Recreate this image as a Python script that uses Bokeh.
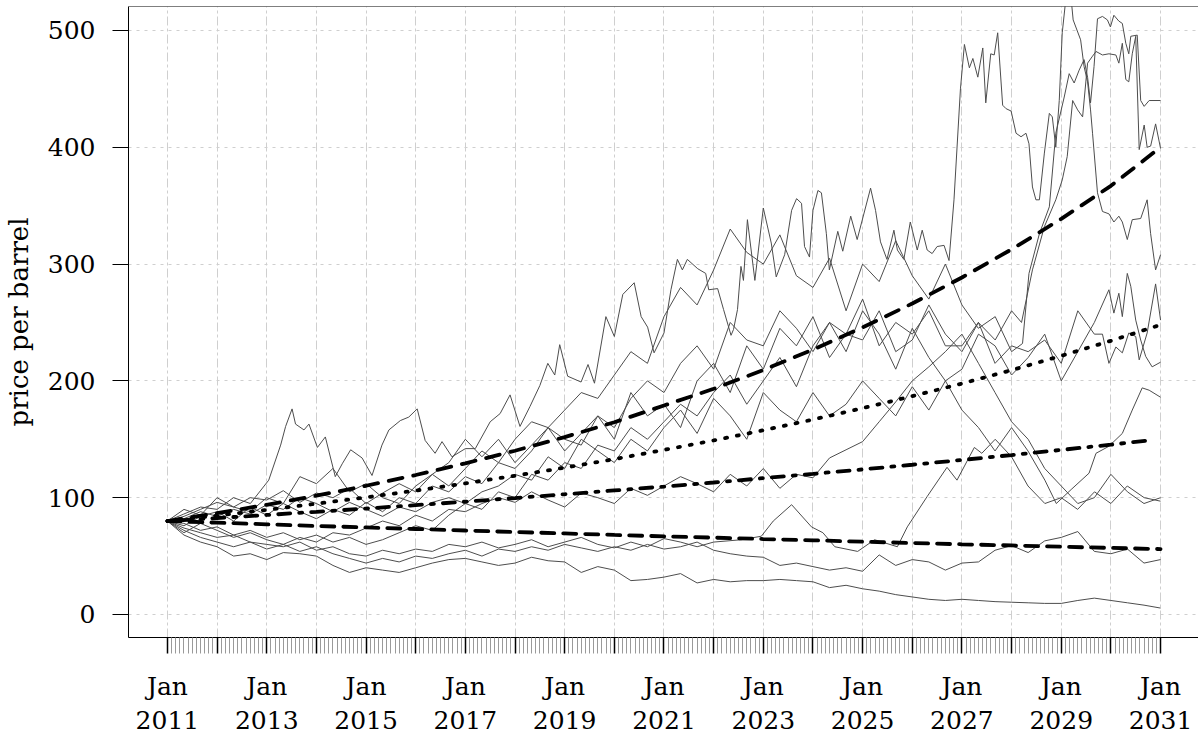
from bokeh.plotting import figure
from bokeh.models import FixedTicker, Span
from bokeh.embed import file_html
from bokeh.resources import INLINE

# ---- data ----
years = list(range(2011, 2032))
mean_up = [80, 86.7, 93.9, 101.7, 110.2, 119.4, 129.4, 140.2, 151.9, 164.6, 178.9,
           193.2, 209.3, 226.8, 245.8, 266.2, 288.5, 312.6, 338.7, 367.0, 400]
mean_mid = [80, 84.7, 89.6, 94.8, 100.3, 106.1, 112.3, 118.8, 125.7, 133.0, 140.9,
            149.0, 157.7, 166.9, 176.6, 186.9, 197.7, 209.2, 221.4, 234.3, 248]
low_years = list(range(2011, 2031)) + [2030.75]
mean_low = [80, 82.6, 85.2, 87.9, 90.7, 93.6, 96.6, 99.7, 102.9, 106.2, 109.5,
            113.0, 116.7, 120.4, 124.2, 128.2, 132.3, 136.5, 140.9, 145.4, 149]
mean_down = [80, 78.6, 77.2, 75.8, 74.5, 73.2, 71.9, 70.6, 69.4, 68.1, 66.9,
             65.8, 64.6, 63.5, 62.3, 61.2, 60.1, 59.1, 58.0, 57.0, 56]

# simulated price paths
grid = [2011 + k / 3 for k in range(61)]   # every 4 months

a_t = [2011.0, 2011.33, 2011.67, 2012.0, 2012.33, 2012.67, 2013.04, 2013.28, 2013.38, 2013.51, 2013.58,
       2013.75, 2013.85, 2014.02, 2014.18, 2014.38, 2014.52, 2014.69, 2014.92, 2015.12, 2015.32, 2015.46,
       2015.69, 2015.86, 2016.03, 2016.19, 2016.39, 2016.53, 2016.73, 2017.0, 2017.2, 2017.5, 2017.7,
       2017.9, 2018.1, 2018.3, 2018.5, 2018.66, 2018.8, 2018.9, 2019.06, 2019.33, 2019.47, 2019.6, 2019.83,
       2020.0, 2020.17, 2020.4, 2020.54, 2020.67, 2020.8, 2021.0, 2021.14, 2021.27, 2021.37, 2021.47,
       2021.68, 2021.84, 2021.9, 2022.08, 2022.2, 2022.35, 2022.4, 2022.48, 2022.55, 2022.6, 2022.68,
       2022.83, 2023.0, 2023.16, 2023.26, 2023.43, 2023.57, 2023.67, 2023.77, 2023.83, 2023.93, 2024.0,
       2024.1, 2024.17, 2024.27, 2024.33, 2024.5, 2024.6, 2024.76, 2024.89, 2025.16, 2025.26, 2025.36,
       2025.49, 2025.63, 2025.7, 2025.83, 2025.96, 2026.1, 2026.2, 2026.3, 2026.4, 2026.5, 2026.64,
       2026.74, 2026.84, 2026.97, 2027.05, 2027.15, 2027.22, 2027.32, 2027.42, 2027.48, 2027.58, 2027.65,
       2027.72, 2027.82, 2027.89, 2027.99, 2028.09, 2028.19, 2028.29, 2028.35, 2028.42, 2028.49, 2028.56,
       2028.66, 2028.76, 2028.82, 2028.89, 2028.96, 2029.02, 2029.09, 2029.17, 2029.24, 2029.39, 2029.46,
       2029.53, 2029.59, 2029.63, 2029.73, 2029.83, 2029.96, 2030.06, 2030.16, 2030.23, 2030.33, 2030.43,
       2030.6, 2030.73, 2030.8, 2030.9, 2031.0]
a_v = [80, 86, 92, 90, 100, 95, 115, 145, 161, 176, 163,
       158, 163, 143, 152, 118, 129, 141, 134, 119, 145, 158,
       166, 169, 176, 149, 138, 148, 135, 142, 142, 165, 172,
       188, 161, 178, 196, 215, 205, 231, 204, 199, 214, 198, 255,
       238, 274, 284, 255, 246, 224, 241, 278, 304, 295, 304,
       296, 292, 278, 279, 261, 239, 244, 261, 298, 286, 338,
       286, 348, 318, 289, 308, 346, 356, 352, 315, 306, 346,
       363, 361, 326, 295, 328, 311, 341, 321, 365, 346, 319,
       304, 329, 312, 304, 336, 312, 329, 312, 309, 315, 316,
       303, 355, 450, 488, 468, 476, 460, 485, 438, 480, 479,
       498, 436, 433, 431, 412, 409, 412, 403, 366, 355, 355,
       395, 429, 426, 400, 440, 498, 526, 540, 509, 492, 469,
       456, 432, 412, 361, 345, 343, 336, 341, 336, 321, 338,
       339, 355, 326, 295, 308]

b_head = [80, 84, 90, 96, 92, 100, 98, 106, 96, 104, 100, 108, 95, 104, 112, 105, 120, 110, 125, 140,
          130, 150, 165, 160, 175, 190, 185, 205, 225, 215, 255, 280, 265, 295, 330, 310, 300, 325, 290, 280,
          305, 260, 300, 285, 320, 290, 270, 300]
b_tail_t = [2027.0, 2027.33, 2027.67, 2028.0, 2028.22, 2028.35, 2028.56, 2028.76, 2028.89, 2029.06, 2029.16,
            2029.26, 2029.36, 2029.46, 2029.53, 2029.59, 2029.66, 2029.73, 2029.83, 2029.93, 2029.99, 2030.06,
            2030.16, 2030.23, 2030.3, 2030.36, 2030.4, 2030.53, 2030.6, 2030.67, 2030.77, 2031.0]
b_tail_v = [265, 245, 255, 225, 232, 292, 326, 349, 412, 443, 463,
            455, 466, 475, 460, 438, 469, 510, 512, 509, 503, 513,
            508, 506, 489, 480, 495, 496, 440, 435, 440, 440]

c_head = [80, 76, 84, 88, 80, 92, 85, 95, 88, 82, 90, 85, 96, 88, 100, 95, 110, 105, 118, 112,
          130, 125, 140, 160, 150, 145, 170, 160, 185, 200, 190, 215, 230, 210, 250, 235, 230, 260, 245, 225,
          250, 240, 270, 230, 250, 240, 260, 230]
c_tail_t = [2027.0, 2027.33, 2027.67, 2028.0, 2028.2, 2028.42, 2028.66, 2028.89, 2029.02, 2029.12, 2029.23,
            2029.33, 2029.43, 2029.53, 2029.63, 2029.7, 2029.83, 2029.96, 2030.1, 2030.16, 2030.23, 2030.3,
            2030.36, 2030.43, 2030.5, 2030.57, 2030.67, 2030.73, 2030.8, 2030.9, 2031.0]
c_tail_v = [230, 250, 235, 260, 250, 295, 332, 355, 372, 392, 440,
            432, 426, 472, 478, 482, 479, 480, 479, 472, 489, 458,
            456, 480, 495, 398, 419, 400, 401, 420, 399]

d_head = [80, 90, 85, 100, 92, 88, 100, 95, 118, 112, 125, 105, 112, 100, 95, 110, 120, 130, 150, 135,
          150, 130, 145, 160, 140, 155, 170, 150, 190, 170, 180, 160, 200, 215, 190, 230, 210, 245, 230, 255,
          220, 240, 235, 260, 225, 235, 265, 240, 225, 250, 215, 230, 225, 235, 215, 260, 240]
d_tail_t = [2029.83, 2029.96, 2030.1, 2030.23, 2030.36, 2030.5, 2030.57, 2030.73, 2030.9, 2031.0]
d_tail_v = [240, 215, 229, 224, 241, 238, 218, 241, 283, 252]

e_head = [80, 78, 72, 75, 68, 72, 66, 70, 64, 68, 62, 66, 60, 64, 70, 76, 72, 85, 95, 90,
          105, 100, 120, 115, 130, 125, 145, 140, 160, 150, 165, 180, 170, 190, 205, 180, 200, 220, 195, 230,
          250, 225, 260, 240, 210, 245, 220, 200, 210, 240, 230, 205, 220, 240, 200, 225, 250]
e_tail_t = [2029.96, 2030.06, 2030.16, 2030.23, 2030.33, 2030.4, 2030.5, 2030.6, 2030.7, 2030.83, 2031.0]
e_tail_v = [278, 258, 275, 255, 292, 281, 252, 235, 221, 212, 216]

f_head = [80, 82, 88, 84, 90, 86, 94, 90, 100, 95, 88, 96, 90, 84, 92, 88, 96, 100, 95, 105,
          110, 120, 115, 135, 125, 150, 140, 130, 150, 140, 160, 175, 155, 185, 170, 150, 190, 175, 165, 190,
          170, 180, 200, 185, 170, 195, 175, 200, 175, 160, 140, 160]
f_tail_t = [2028.33, 2028.67, 2028.9, 2029.2, 2029.56, 2029.7, 2029.96, 2030.23, 2030.43, 2030.63, 2030.77, 2031.0]
f_tail_v = [140, 115, 95, 107, 121, 138, 144, 155, 175, 194, 192, 186]

g_head = [80, 74, 70, 66, 68, 62, 60, 58, 62, 55, 58, 52, 50, 55, 52, 56, 54, 60, 58, 62,
          57, 60, 64, 58, 62, 66, 60, 57, 62, 58, 65, 62, 58, 62]
g_tail_t = [2022.56, 2022.96, 2023.2, 2023.57, 2023.97, 2024.2, 2024.44, 2024.9, 2025.24, 2025.7, 2025.9,
            2026.3, 2026.7, 2026.9, 2027.25, 2027.4, 2027.67, 2028.0, 2028.33, 2028.67, 2029.0, 2029.33,
            2029.67, 2030.0, 2030.33, 2030.67, 2031.0]
g_tail_v = [64, 67, 80, 94, 75, 70, 58, 54, 64, 58, 75,
            101, 126, 115, 143, 138, 150, 135, 110, 95, 100, 90,
            105, 95, 110, 100, 97]

path_h = [80, 70, 78, 72, 66, 70, 64, 60, 66, 62, 70, 68, 74, 80, 76, 85, 80, 90, 88, 95,
          100, 96, 105, 98, 92, 104, 100, 95, 108, 102, 110, 118, 112, 105, 120, 110, 125, 108, 120, 117,
          134, 141, 148, 165, 182, 200, 212, 225, 240, 215, 190, 165, 150, 125, 110, 95, 100, 120, 105, 95, 100]
path_i = [80, 72, 66, 62, 58, 62, 56, 60, 54, 58, 52, 48, 44, 48, 45, 50, 48, 52, 55, 50,
          56, 54, 58, 55, 60, 57, 54, 58, 55, 60, 56, 58, 62, 55, 52, 50, 49, 42, 44, 41,
          38, 40, 37, 51, 42, 47, 45, 38, 44, 45, 55, 59, 53, 63, 66, 71, 54, 52, 56, 44, 47]
path_j = [80, 68, 62, 58, 50, 52, 47, 53, 52, 50, 42, 36, 40, 38, 36, 40, 44, 47, 48, 45,
          42, 44, 49, 46, 45, 36, 41, 38, 29, 30, 32, 35, 27, 30, 28, 29, 29, 30, 29, 28,
          23, 25, 22, 20, 17, 15, 13, 12, 13, 12, 11, 10.5, 10, 9.5, 9.5, 12, 14, 12, 10, 8, 5.5]

series = [
    (a_t, a_v),
    (grid[:len(b_head)] + b_tail_t, b_head + b_tail_v),
    (grid[:len(c_head)] + c_tail_t, c_head + c_tail_v),
    (grid[:len(d_head)] + d_tail_t, d_head + d_tail_v),
    (grid[:len(e_head)] + e_tail_t, e_head + e_tail_v),
    (grid[:len(f_head)] + f_tail_t, f_head + f_tail_v),
    (grid[:len(g_head)] + g_tail_t, g_head + g_tail_v),
    (grid, path_h),
    (grid, path_i),
    (grid, path_j),
]

yr_ticks = list(range(2011, 2032))
month_ticks = [2011 + m / 12 for m in range(241) if m % 12 != 0]
label_map = {y: (f"Jan\n{y}" if (y - 2011) % 2 == 0 else "") for y in yr_ticks}
y_ticks = [0, 100, 200, 300, 400, 500]

FONT = "DejaVu Serif"
Y_TOP = 520.5

p = figure(width=1198, height=740, output_backend="svg", toolbar_location=None,
           x_range=(2010.216, 2031.764), y_range=(-19.7, Y_TOP),
           min_border_left=126, min_border_right=0, min_border_top=6, min_border_bottom=103)
p.outline_line_color = None
p.background_fill_color = "white"

xa = p.xaxis[0]
xa.ticker = FixedTicker(ticks=yr_ticks, minor_ticks=month_ticks)
xa.major_label_overrides = label_map
xa.major_tick_out = 16
xa.major_tick_in = 0
xa.minor_tick_out = 16
xa.minor_tick_in = 0
xa.major_tick_line_color = "black"
xa.major_tick_line_width = 1.5
xa.minor_tick_line_color = "#9a9a9a"
xa.minor_tick_line_width = 1
xa.axis_line_color = "black"
xa.major_label_text_font = FONT
xa.major_label_text_font_size = "25px"
xa.major_label_text_color = "black"
xa.major_label_standoff = 18

ya = p.yaxis[0]
ya.ticker = FixedTicker(ticks=y_ticks, minor_ticks=[])
ya.major_tick_out = 16
ya.major_tick_in = 0
ya.minor_tick_out = 0
ya.major_tick_line_color = "black"
ya.axis_line_color = "black"
ya.major_label_text_font = FONT
ya.major_label_text_font_size = "25px"
ya.major_label_text_color = "black"
ya.major_label_standoff = 17
ya.axis_label = "price per barrel"
ya.axis_label_text_font = FONT
ya.axis_label_text_font_size = "26px"
ya.axis_label_text_font_style = "normal"
ya.axis_label_text_color = "black"
ya.axis_label_standoff = 11

p.xgrid.ticker = FixedTicker(ticks=yr_ticks)
p.xgrid.grid_line_color = "#cfcfcf"
p.xgrid.grid_line_dash = "9 3 3 3"
p.ygrid.ticker = FixedTicker(ticks=y_ticks)
p.ygrid.grid_line_color = "#cfcfcf"
p.ygrid.grid_line_dash = "3 5"

p.add_layout(Span(location=Y_TOP, dimension="width", line_color="black", line_width=1))

for tx, vy in series:
    p.line(tx, vy, line_color="#4d4d4d", line_width=1)

W = 3.8
p.line(years, mean_up, line_color="black", line_width=W, line_dash="14 11", line_cap="round")
p.line(years, mean_mid, line_color="black", line_width=W, line_dash="2 10", line_cap="round")
p.line(low_years, mean_low, line_color="black", line_width=W, line_dash="3 9 12 9", line_cap="round")
p.line(years, mean_down, line_color="black", line_width=W, line_dash="13 9", line_cap="round")

open("out.html", "w").write(file_html(p, INLINE))
